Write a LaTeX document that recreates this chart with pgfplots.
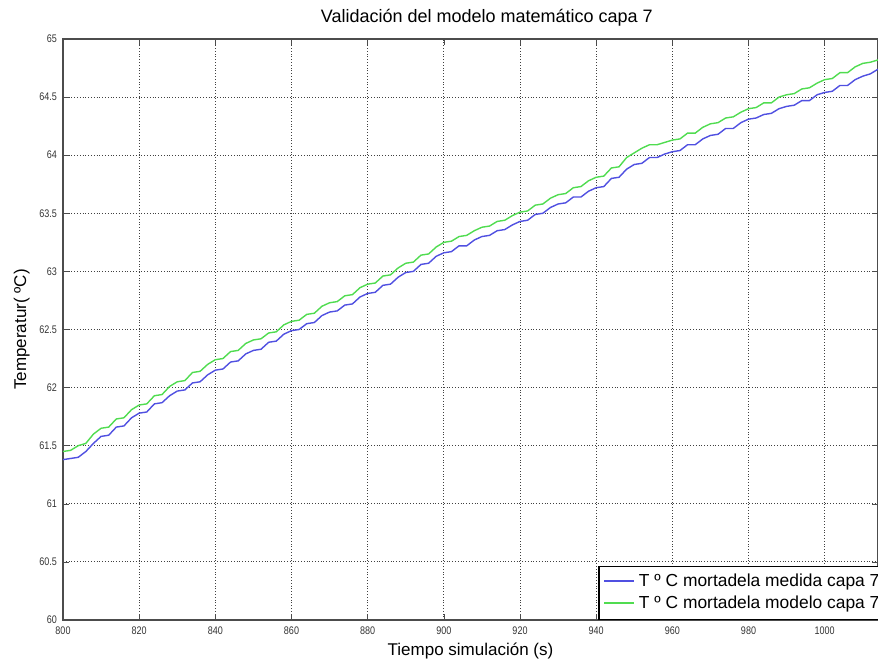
\documentclass[border=0pt]{standalone}
\usepackage{fontspec}
\setmainfont{Liberation Sans}
\newfontfamily\narrowfont[FakeStretch=0.82]{Liberation Sans}
\usepackage{pgfplots}
\pgfplotsset{compat=1.18}
\definecolor{mblue}{RGB}{80,80,225}
\definecolor{mgreen}{RGB}{80,220,80}
\begin{document}
\begin{tikzpicture}
\begin{axis}[
  scale only axis, width=407.5pt, height=290.5pt,
  xmin=800, xmax=1014, ymin=60, ymax=65,
  xtick={800,820,...,1000}, ytick={60,60.5,...,65},
  /pgf/number format/assume math mode=true,
  /pgf/number format/1000 sep={},
  tick label style={font=\narrowfont\fontsize{5.5}{6}\selectfont, text=black!80},
  yticklabel style={xshift=0.5pt},
  grid=major, major grid style={densely dotted, black!75, line width=0.5pt},
  tick align=inside, major tick length=3pt,
  tick style={black!70},
  axis line style={black!70, line width=0.6pt},
  title={Validación del modelo matemático capa 7},
  title style={font=\fontsize{9}{10}\selectfont, at={(0.52,1)}, yshift=-3pt},
  xlabel={Tiempo simulación (s)},
  ylabel={Temperatur( ºC)},
  label style={font=\fontsize{8.5}{10}\selectfont},
  xlabel style={yshift=3pt},
  ylabel style={yshift=-2pt},
  legend style={at={(1,0)}, anchor=south east, xshift=5pt, font=\fontsize{8.7}{10}\selectfont,
    draw=black, line width=0.6pt, inner xsep=2pt, inner ysep=2pt, row sep=-1pt,
    cells={anchor=west}},
  legend image code/.code={\draw[#1, line width=1pt] (0pt,0.3pt) -- (15pt,0.3pt);},
]
\addplot[mblue, line width=0.7pt] coordinates {
(800,61.38)(802,61.39)(804,61.40)(806,61.45)(808,61.52)(810,61.58)
(812,61.59)(814,61.66)(816,61.67)(818,61.74)(820,61.78)
(822,61.79)(824,61.86)(826,61.87)(828,61.93)(830,61.97)
(832,61.98)(834,62.04)(836,62.05)(838,62.11)(840,62.15)
(842,62.16)(844,62.22)(846,62.23)(848,62.29)(850,62.32)
(852,62.33)(854,62.39)(856,62.40)(858,62.46)(860,62.49)
(862,62.50)(864,62.55)(866,62.56)(868,62.62)(870,62.65)
(872,62.66)(874,62.71)(876,62.72)(878,62.78)(880,62.81)
(882,62.82)(884,62.88)(886,62.89)(888,62.95)(890,62.99)
(892,63.00)(894,63.06)(896,63.07)(898,63.13)(900,63.16)
(902,63.17)(904,63.22)(906,63.22)(908,63.27)(910,63.30)
(912,63.31)(914,63.35)(916,63.36)(918,63.40)(920,63.43)
(922,63.44)(924,63.49)(926,63.50)(928,63.55)(930,63.58)
(932,63.59)(934,63.64)(936,63.64)(938,63.69)(940,63.72)
(942,63.73)(944,63.80)(946,63.81)(948,63.88)(950,63.92)
(952,63.93)(954,63.98)(956,63.98)(958,64.01)(960,64.03)
(962,64.04)(964,64.09)(966,64.09)(968,64.14)(970,64.17)
(972,64.18)(974,64.23)(976,64.23)(978,64.28)(980,64.31)
(982,64.32)(984,64.35)(986,64.36)(988,64.40)(990,64.42)
(992,64.43)(994,64.47)(996,64.47)(998,64.52)(1000,64.54)
(1002,64.55)(1004,64.60)(1006,64.60)(1008,64.65)(1010,64.68)
(1012,64.70)(1014,64.74)
};
\addlegendentry{T º C mortadela medida capa 7}
\addplot[mgreen, line width=0.7pt] coordinates {
(800,61.45)(802,61.46)(804,61.50)(806,61.52)(808,61.60)(810,61.65)
(812,61.66)(814,61.73)(816,61.74)(818,61.81)(820,61.85)
(822,61.86)(824,61.93)(826,61.94)(828,62.01)(830,62.05)
(832,62.06)(834,62.13)(836,62.14)(838,62.20)(840,62.24)
(842,62.25)(844,62.31)(846,62.32)(848,62.38)(850,62.41)
(852,62.42)(854,62.47)(856,62.48)(858,62.54)(860,62.57)
(862,62.58)(864,62.63)(866,62.64)(868,62.70)(870,62.73)
(872,62.74)(874,62.79)(876,62.80)(878,62.86)(880,62.89)
(882,62.90)(884,62.96)(886,62.97)(888,63.03)(890,63.07)
(892,63.08)(894,63.14)(896,63.15)(898,63.21)(900,63.25)
(902,63.26)(904,63.30)(906,63.31)(908,63.35)(910,63.38)
(912,63.39)(914,63.43)(916,63.44)(918,63.48)(920,63.51)
(922,63.52)(924,63.57)(926,63.58)(928,63.63)(930,63.66)
(932,63.67)(934,63.72)(936,63.73)(938,63.78)(940,63.81)
(942,63.82)(944,63.89)(946,63.90)(948,63.98)(950,64.02)
(952,64.06)(954,64.09)(956,64.09)(958,64.11)(960,64.13)
(962,64.14)(964,64.19)(966,64.19)(968,64.24)(970,64.27)
(972,64.28)(974,64.32)(976,64.33)(978,64.37)(980,64.40)
(982,64.41)(984,64.45)(986,64.45)(988,64.50)(990,64.52)
(992,64.53)(994,64.57)(996,64.58)(998,64.62)(1000,64.65)
(1002,64.66)(1004,64.71)(1006,64.71)(1008,64.76)(1010,64.79)
(1012,64.80)(1014,64.82)
};
\addlegendentry{T º C mortadela modelo capa 7}
\end{axis}
\pgfresetboundingbox
\path[use as bounding box] (current axis.south west) ++(-31.5pt,-25.5pt) rectangle ([yshift=19.5pt]current axis.north east);
\end{tikzpicture}
\end{document}
